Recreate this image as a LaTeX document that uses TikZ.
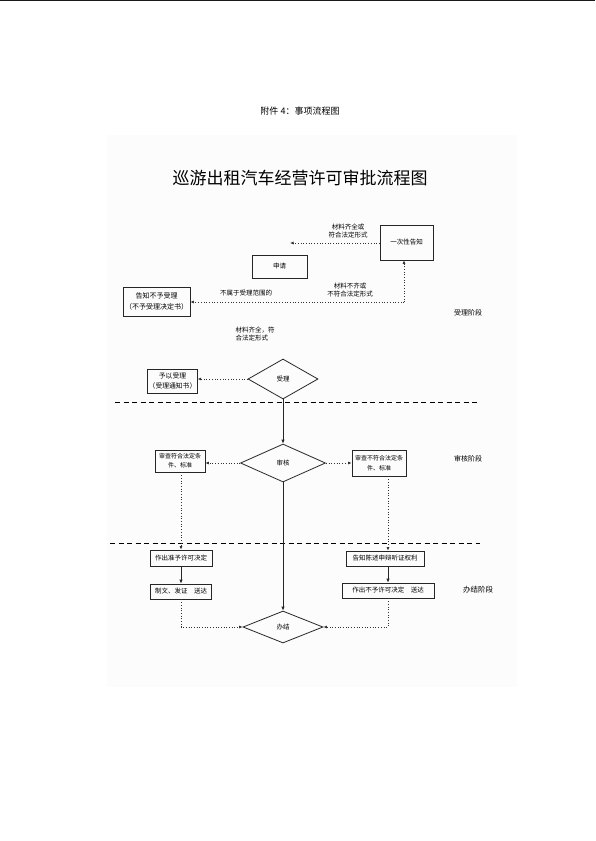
\documentclass[tikz,border=0pt]{standalone}
\usepackage{fontspec}
\setmainfont{Noto Sans CJK SC}
\usetikzlibrary{shapes.geometric,arrows.meta}
\begin{document}
\begin{tikzpicture}[x=1pt,y=-1pt,
  every node/.style={font=\fontsize{6.5}{8}\selectfont, text=black},
  box/.style={draw=black!85, line width=0.8pt, inner sep=1pt, align=center},
  dia/.style={draw=black!85, line width=0.8pt, diamond, inner sep=0pt},
  dotarr/.style={draw=black!80, line width=0.7pt, dotted, -{Latex[length=3.5pt,width=3pt]}},
  solarr/.style={draw=black!85, line width=0.8pt, -{Latex[length=4pt,width=3.5pt]}},
  stageline/.style={draw=black, line width=0.9pt, dash pattern=on 5pt off 3.5pt},
  lbl/.style={align=center, inner sep=0pt},
  stage/.style={font=\fontsize{7}{8}\selectfont, inner sep=0pt}
]
\useasboundingbox (0,0) rectangle (595,841);
\fill[white] (0,0) rectangle (595,841);
\draw[black!90, line width=1.2pt] (0,0.6) -- (595,0.6);
\fill[black!1.2] (107,135) rectangle (517,687);

\node[font=\fontsize{9}{10}\selectfont] (hdr) at (300,111) {附件 4：事项流程图};
\node[font=\fontsize{17}{20}\selectfont] (title) at (300,178) {巡游出租汽车经营许可审批流程图};

% 受理阶段
\node[box, minimum width=53pt, minimum height=35pt] (yici) at (406.5,242.5) {一次性告知};
\node[box, minimum width=55pt, minimum height=23pt] (sq) at (279.5,266.5) {申请};
\node[box, minimum width=67pt, minimum height=29pt, font=\fontsize{7}{11}\selectfont] (gzbs) at (156.5,301.5) {告知不予受理\\（不予受理决定书）};
\coordinate (lend) at (290,243);
\coordinate (crn) at (404,302);
\draw[dotarr] (yici.west |- lend) -- (lend);
\draw[dotarr] (crn) -- (yici.south -| crn);
\draw[dotarr] (crn) -- (gzbs.east |- crn);
\node[lbl] (l1) at (348,231) {材料齐全或\\符合法定形式};
\node[lbl] (l2) at (350,290.5) {材料不齐或\\不符合法定形式};
\node[lbl] (l3) at (246,293) {不属于受理范围的};
\node[lbl, align=left] (l4) at (255,334) {材料齐全，符\\合法定形式};

\node[dia, minimum width=70pt, minimum height=40pt] (sl) at (283,379) {受理};
\node[box, minimum width=49pt, minimum height=24pt, font=\fontsize{6.8}{10}\selectfont] (yy) at (172.5,381) {予以受理\\（受理通知书）};
\draw[dotarr] (sl.west) -- (yy.east |- sl.west);
\node[stage] (st1) at (468,313) {受理阶段};

\draw[stageline] (115,402) coordinate (d1a) -- (480,402) coordinate (d1b);

% 审核阶段
\node[dia, minimum width=85pt, minimum height=38pt] (sh) at (283,463) {审核};
\draw[solarr] (sl.south) -- (sh.north);
\node[box, minimum width=50pt, minimum height=22pt, font=\fontsize{6}{9}\selectfont] (lb) at (180,461) {审查符合法定条\\件、标准};
\node[box, minimum width=54pt, minimum height=26pt, font=\fontsize{6}{10}\selectfont] (rb) at (379,463) {审查不符合法定条\\件、标准};
\draw[dotarr] (sh.west) -- (lb.east |- sh.west);
\draw[dotarr] (sh.east) -- (rb.west |- sh.east);
\node[stage] (st2) at (468,459) {审核阶段};

\draw[stageline] (110,543) coordinate (d2a) -- (480,543) coordinate (d2b);

% 办结阶段
\node[box, minimum width=62pt, minimum height=16pt] (zz) at (181,558) {作出准予许可决定};
\node[box, minimum width=61pt, minimum height=15pt] (zw) at (181,591.5) {制文、发证　送达};
\node[box, minimum width=78pt, minimum height=15pt] (cs) at (385,558.5) {告知陈述申辩听证权利};
\node[box, minimum width=92pt, minimum height=15pt] (zb) at (388,590.5) {作出不予许可决定　送达};
\node[dia, minimum width=80pt, minimum height=32pt] (bj) at (283,627) {办结};
\node[stage, font=\fontsize{7.5}{9}\selectfont] (st3) at (478,590) {办结阶段};

\draw[dotarr] (lb.south -| zz.north) -- (zz.north);
\draw[dotarr] (rb.south -| zb.north) -- (cs.north -| zb.north);
\draw[solarr] (zz.south) -- (zw.north);
\draw[solarr] (cs.south -| zb.north) -- (zb.north);
\draw[solarr] (sh.south) -- (bj.north);
\draw[dotarr] (zw.south) |- (bj.west);
\draw[dotarr] (zb.south) |- (bj.east);
\end{tikzpicture}
\end{document}
